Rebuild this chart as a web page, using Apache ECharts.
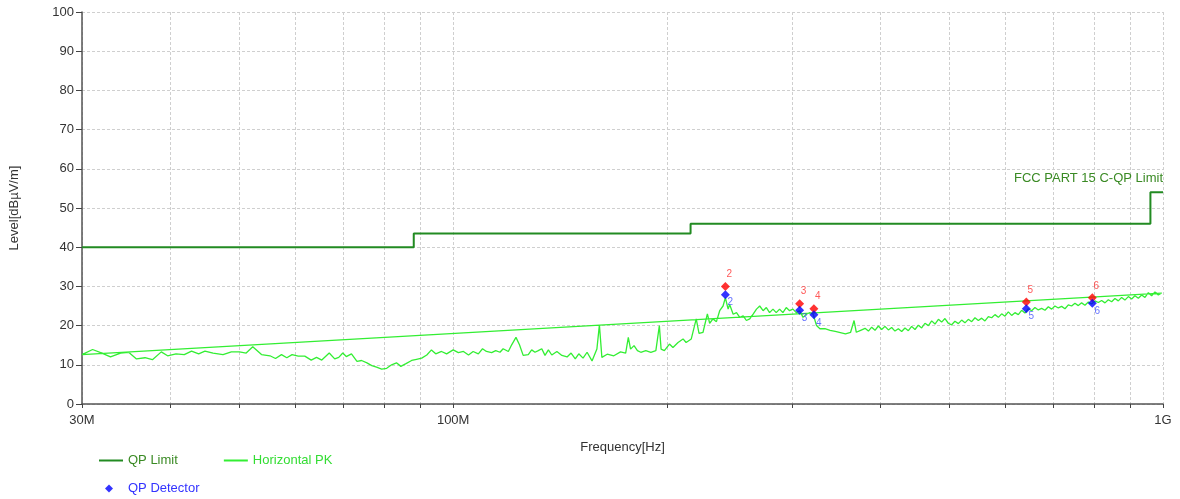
<!DOCTYPE html>
<html>
<head>
<meta charset="utf-8">
<script src="https://cdn.jsdelivr.net/npm/echarts@6/dist/echarts.min.js"></script>
<style>
html,body{margin:0;padding:0;background:#fff;}
#chart{width:1180px;height:499px;}
</style>
</head>
<body>
<div id="chart"></div>
<script>
// ---- data ----
const yTickValues = [0,10,20,30,40,50,60,70,80,90,100];
const xTickValues = [30,40,50,60,70,80,90,100,200,300,400,500,600,700,800,900,1000];
const xLabelValues = [30,100,1000];
const xLabelTexts = {30:'30M',100:'100M',1000:'1G'};

const limitFreq  = [30,88,88,216,216,960,960,1000];
const limitLevel = [40,40,43.5,43.5,46,46,54,54];
const limitText = 'FCC PART 15 C-QP Limit';

// Horizontal PK trace: [frequency MHz, level dBuV/m]
const pkTrace = [
[30.0,12.6],[31.05,13.9],[32.0,13.0],[32.9,12.0],[34.0,13.0],[34.9,13.2],[35.8,11.5],[36.8,11.8],[37.7,11.3],[38.8,13.3],
[39.6,12.3],[40.7,12.8],[41.8,12.6],[42.8,13.5],[43.8,12.8],[44.7,13.5],[45.9,13.0],[47.4,12.6],[48.7,13.3],[50.0,13.3],
[51.1,13.0],[52.2,14.6],[53.7,12.6],[55.2,12.3],[56.2,11.6],[57.3,12.6],[58.3,11.8],[59.3,12.6],[60.5,12.2],[61.8,12.2],
[63.1,11.2],[64.2,11.9],[65.3,11.2],[66.9,13.0],[68.1,11.5],[69.0,11.9],[69.9,13.0],[70.7,12.1],[71.9,12.8],[73.2,10.9],
[74.3,11.1],[75.6,10.5],[76.8,9.8],[78.0,9.4],[79.3,8.9],[80.6,9.1],[81.9,10.0],[83.2,10.5],[84.4,9.6],[85.8,10.3],
[87.4,11.1],[88.8,11.4],[90.3,11.7],[91.8,12.5],[93.2,13.8],[94.5,12.8],[96.3,13.4],[97.9,12.8],[100.0,13.8],[101.7,13.1],
[103.4,13.4],[105.1,12.5],[106.7,13.4],[108.5,12.8],[110.0,14.1],[111.4,13.4],[113.3,13.1],[114.8,13.6],[116.4,13.2],[117.6,14.1],
[119.6,13.4],[120.9,15.1],[122.6,17.0],[124.0,15.1],[125.5,12.4],[127.6,12.6],[129.0,13.8],[130.4,13.2],[131.8,13.6],[133.3,14.1],
[134.7,12.4],[136.2,13.8],[137.7,12.5],[140.0,13.4],[142.3,12.4],[144.7,12.0],[146.6,13.0],[148.6,11.5],[150.3,12.8],[152.4,11.7],
[154.4,13.2],[156.9,11.0],[159.4,14.0],[160.7,20.2],[162.0,11.9],[164.8,12.7],[168.4,12.3],[172.1,13.3],[175.0,13.0],[176.5,17.0],
[177.8,14.0],[179.8,14.9],[181.8,13.6],[183.8,13.2],[186.8,13.6],[189.9,13.2],[193.0,13.6],[195.2,20.0],[196.3,14.0],[198.4,13.6],
[201.7,15.3],[204.0,14.4],[207.4,15.7],[210.8,16.6],[212.9,15.7],[216.5,16.6],[220.0,21.7],[222.0,18.0],[224.9,18.3],[228.1,23.0],
[229.8,20.6],[232.3,21.7],[234.9,21.0],[237.4,23.8],[240.0,25.0],[241.8,27.1],[244.0,24.2],[245.2,25.4],[248.0,22.9],[250.7,23.3],
[253.4,22.1],[256.2,22.5],[258.9,21.3],[261.7,21.7],[264.6,22.9],[267.5,24.2],[270.3,25.0],[273.3,23.8],[276.2,24.6],[279.1,23.3],
[282.2,24.2],[285.2,23.3],[288.3,24.2],[291.4,23.3],[294.6,24.6],[297.8,23.8],[301.1,24.2],[304.3,23.3],[307.7,23.8],[311.1,22.1],
[314.5,22.9],[318.0,23.3],[321.5,22.9],[325.0,20.0],[328.6,19.2],[334.0,19.2],[339.6,18.8],[345.3,18.5],[351.1,18.2],[357.0,17.9],
[363.0,18.3],[367.1,21.3],[369.8,18.3],[375.0,18.8],[380.4,19.3],[384.6,18.6],[388.7,19.6],[392.9,18.8],[397.2,19.9],[401.5,19.0],
[405.8,19.8],[410.3,18.9],[414.7,19.5],[419.2,18.6],[423.8,19.2],[428.4,18.5],[433.0,19.4],[437.8,18.7],[442.5,19.8],[447.3,19.0],
[452.2,20.1],[457.1,19.4],[462.0,20.6],[467.2,20.0],[472.2,21.2],[477.3,20.4],[482.6,21.6],[487.7,20.9],[493.0,21.8],[498.4,20.6],
[503.8,20.2],[509.2,21.1],[514.9,20.5],[520.4,21.4],[526.0,20.7],[531.8,21.6],[537.6,21.0],[543.4,22.0],[549.4,21.3],[555.3,21.9],
[561.3,21.2],[567.5,22.3],[573.6,22.0],[579.8,22.8],[586.2,22.1],[592.5,23.0],[598.9,22.4],[605.5,23.5],[612.0,22.6],[618.6,23.3],
[625.4,22.8],[632.2,23.9],[639.0,23.2],[646.1,24.3],[653.0,23.8],[660.1,24.6],[667.3,24.0],[674.6,24.4],[681.9,23.9],[689.4,24.8],
[696.8,24.2],[704.3,25.0],[712.1,24.5],[719.8,24.9],[727.6,24.3],[735.6,25.3],[743.5,25.0],[751.5,25.7],[759.8,25.1],[768.0,25.8],
[776.3,25.2],[784.9,26.0],[793.3,25.5],[801.9,26.3],[810.8,25.9],[819.5,26.4],[828.4,25.8],[837.5,26.6],[846.5,26.1],[855.6,26.9],
[865.1,26.3],[874.4,27.2],[883.8,26.5],[893.6,27.4],[903.3,26.8],[913.0,27.6],[923.1,27.0],[933.1,27.8],[943.2,27.2],[953.6,28.4],
[963.8,27.6],[974.2,28.6],[984.9,27.8],[995.6,28.3],[1000,28.0]
];

// markers
const markerIds   = ['2','3','4','5','6'];
const markerFreq  = [241.8,307.7,322.2,641.9,795.1];
const peakLevel   = [30.0,25.6,24.3,26.0,27.1];
const qpLevel     = [27.9,23.9,22.75,24.3,25.7];

// ---- build ----
const FONT = '"Liberation Sans", Arial, sans-serif';
const FS = 13;
const limitData = limitFreq.map((f,i)=>[f,limitLevel[i]]);
const limitEnd = [limitFreq[limitFreq.length-1], limitLevel[limitLevel.length-1]];
// trace drawn as recorded, closing back to the start point
const pkData = pkTrace.concat([pkTrace[0]]);

const peakData = markerFreq.map((f,i)=>({value:[f,peakLevel[i]], name:markerIds[i]}));
const qpData = markerFreq.map((f,i)=>({value:[f,qpLevel[i]], name:markerIds[i]}));

const chart = echarts.init(document.getElementById('chart'), null, {renderer:'canvas'});
chart.setOption({
  animation:false,
  backgroundColor:'#ffffff',
  textStyle:{fontFamily:FONT},
  grid:{left:82, right:17, top:12, bottom:95, containLabel:false},
  xAxis:{
    type:'log', logBase:10, min:30, max:1000,
    name:'Frequency[Hz]', nameLocation:'middle', nameGap:37,
    nameTextStyle:{color:'#333', fontSize:FS, fontFamily:FONT},
    axisLine:{show:true, lineStyle:{color:'#555', width:1.5}},
    axisTick:{show:true, inside:false, length:4, customValues:xTickValues, lineStyle:{color:'#444', width:1}},
    axisLabel:{show:true, customValues:xLabelValues, formatter:(v)=>xLabelTexts[Math.round(v)]||'',
               color:'#333', fontSize:FS, margin:10, fontFamily:FONT},
    splitLine:{show:true, lineStyle:{color:'#cfcfcf', type:[3,2], width:1}},
    minorTick:{show:false}
  },
  yAxis:{
    type:'value', min:0, max:100, interval:10,
    name:'Level[dBµV/m]', nameLocation:'middle', nameGap:61, nameRotate:90,
    nameTextStyle:{color:'#333', fontSize:FS, fontFamily:FONT},
    axisLine:{show:true, lineStyle:{color:'#555', width:1.5}},
    axisTick:{show:true, inside:false, length:6, lineStyle:{color:'#444', width:1}},
    axisLabel:{color:'#333', fontSize:FS, margin:8, fontFamily:FONT},
    splitLine:{show:true, lineStyle:{color:'#cfcfcf', type:[3,2], width:1}}
  },
  legend:[
    {left:94, top:449, itemWidth:24, itemHeight:10, itemGap:46, icon:'path://M0,4 L24,4 L24,6 L0,6 Z',
     textStyle:{fontSize:FS, fontFamily:FONT},
     data:[{name:'QP Limit', itemStyle:{color:'#228b22'}, textStyle:{color:'#3a8a24'}},
           {name:'Horizontal PK', itemStyle:{color:'#33ee33'}, textStyle:{color:'#33dd33'}}],
     selectedMode:false},
    {left:100, top:477, itemWidth:8, itemHeight:8, icon:'diamond',
     textStyle:{fontSize:FS, fontFamily:FONT, color:'#3333ff', padding:[0,0,0,10]},
     data:[{name:'QP Detector'}], selectedMode:false}
  ],
  series:[
    {name:'QP Limit', type:'line', data:limitData, symbol:'none', showSymbol:false,
     lineStyle:{color:'#228b22', width:2}, itemStyle:{color:'#228b22'}, z:3,
     markPoint:{
       symbol:'circle', symbolSize:1, itemStyle:{color:'rgba(0,0,0,0)'}, silent:true,
       label:{show:true, position:'top', align:'right', distance:7, formatter:limitText,
              color:'#3a8a24', fontSize:FS, fontFamily:FONT},
       data:[{coord:limitEnd}]
     }},
    {name:'Horizontal PK', type:'line', data:pkData, symbol:'none', showSymbol:false,
     lineStyle:{color:'#33ee33', width:1.3}, itemStyle:{color:'#33ee33'}, z:2},
    {name:'Peak', type:'scatter', data:peakData, symbol:'diamond', symbolSize:9,
     itemStyle:{color:'#ff0000'},
     label:{show:true, formatter:(p)=>p.name, position:'inside', offset:[4,-12], color:'#ff3030', fontSize:10, fontFamily:FONT}, z:5},
    {name:'QP Detector', type:'scatter', data:qpData, symbol:'diamond', symbolSize:9,
     itemStyle:{color:'#0000ff'},
     label:{show:true, formatter:(p)=>p.name, position:'inside', offset:[5,8], color:'#4050ff', fontSize:10, fontFamily:FONT}, z:6}
  ]
});
</script>
</body>
</html>
